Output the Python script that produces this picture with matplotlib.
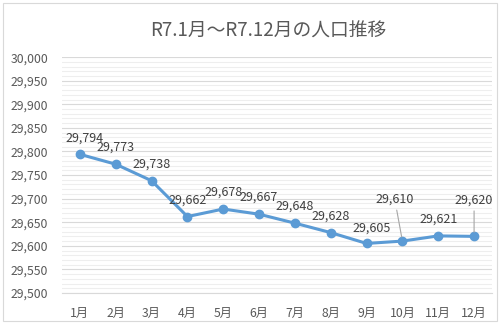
import matplotlib
matplotlib.use('Agg')
import matplotlib.pyplot as plt
from matplotlib.ticker import MultipleLocator, FuncFormatter
from matplotlib.patches import Rectangle

plt.rcParams['font.family'] = ['Noto Sans CJK JP', 'DejaVu Sans']

months = ['1月', '2月', '3月', '4月', '5月', '6月', '7月', '8月', '9月', '10月', '11月', '12月']
population = [29794, 29773, 29738, 29662, 29678, 29667, 29648, 29628, 29605, 29610, 29621, 29620]
# label offsets in points (dx, dy) of label centre, leader line flag
label_offsets = [(3, 12), (0, 12), (0, 12), (0, 11.5), (0, 12), (0, 12), (0, 12.5), (0, 12), (4, 11), (-5.5, 30), (0, 12), (0, 26)]
leader = [False] * 9 + [True, False, True]

fig = plt.figure(figsize=(5.0, 3.23), dpi=100)
fig.patch.set_facecolor('white')
fig.patches.append(Rectangle((0.006, 0.006), 0.988, 0.985, transform=fig.transFigure,
                             fill=False, edgecolor='#d9d9d9', linewidth=0.8))

ax = fig.add_axes([0.124, 0.093, 0.86, 0.73])
x = range(len(months))
ax.plot(x, population, color='#5b9bd5', linewidth=2.2, marker='o', markersize=6, zorder=3)

ax.set_xlim(-0.5, len(months) - 0.5)
ax.set_ylim(29500, 30000)
ax.yaxis.set_major_locator(MultipleLocator(50))
ax.yaxis.set_minor_locator(MultipleLocator(10))
ax.yaxis.set_major_formatter(FuncFormatter(lambda v, p: f'{int(v):,}'))
ax.set_xticks(list(x))
ax.set_xticklabels(months)
ax.grid(which='major', axis='y', color='#d9d9d9', linewidth=0.8)
ax.grid(which='minor', axis='y', color='#eeeeee', linewidth=0.8)
ax.set_axisbelow(True)
for s in ['top', 'right', 'left']:
    ax.spines[s].set_visible(False)
ax.spines['bottom'].set_color('#d9d9d9')
ax.tick_params(axis='both', which='both', length=0, colors='#595959', labelsize=8.8)
ax.tick_params(axis='x', pad=10)
ax.tick_params(axis='y', pad=10)

for i, v in enumerate(population):
    dx, dy = label_offsets[i]
    kw = {}
    if leader[i]:
        kw['arrowprops'] = dict(arrowstyle='-', color='#a6a6a6', lw=0.8, shrinkA=1, shrinkB=3)
    ax.annotate(f'{v:,}', (i, v), xytext=(dx, dy), textcoords='offset points',
                ha='center', va='center', fontsize=9, color='#404040', **kw)

fig.text(0.536, 0.905, 'R7.1月～R7.12月の人口推移', ha='center', va='center',
         fontsize=13.5, color='#595959')

fig.savefig('out.png', dpi=100)
